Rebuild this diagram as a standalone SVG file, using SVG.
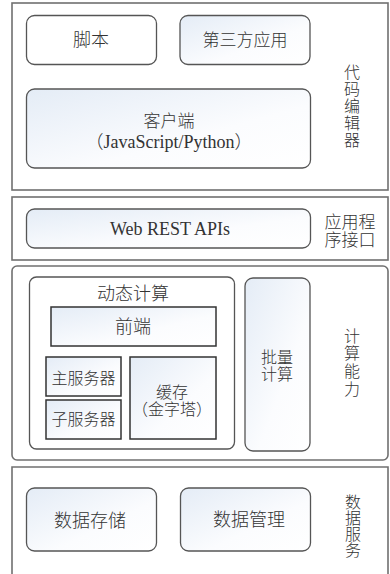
<svg xmlns="http://www.w3.org/2000/svg" width="390" height="574" viewBox="0 0 390 574">
<defs>
<linearGradient id="g" x1="0" y1="0" x2="1" y2="1">
<stop offset="0" stop-color="#e4ecf6"/>
<stop offset="0.6" stop-color="#fbfcfe"/>
<stop offset="1" stop-color="#ffffff"/>
</linearGradient>
<style>
.outer{fill:#fff;stroke:#707070;stroke-width:1.6}
.inner{fill:url(#g);stroke:#555;stroke-width:1.3}
.plain{fill:#fff;stroke:#555;stroke-width:1.3}
.sq{fill:url(#g);stroke:#333;stroke-width:1.5}
text{font-family:"Liberation Serif","Noto Sans CJK SC",serif;font-weight:300;fill:#333;text-anchor:middle;dominant-baseline:central}
.t18{font-size:18px}
.t17{font-size:17px}
.t16{font-size:16px}
</style>
</defs>
<rect width="390" height="574" fill="#fff"/>
<g id="layer-editor">
<rect class="outer" x="12" y="3" width="376" height="187"/>
<text class="t16"><tspan x="352" y="72">代</tspan><tspan x="352" y="89">码</tspan><tspan x="352" y="106">编</tspan><tspan x="352" y="123">辑</tspan><tspan x="352" y="140">器</tspan></text>
</g>
<g id="node-script">
<rect class="plain" x="26.5" y="15.5" width="130" height="49" rx="8"/>
<text class="t18" x="91" y="40">脚本</text>
</g>
<g id="node-thirdparty">
<rect class="inner" x="180" y="15.5" width="130" height="49" rx="8"/>
<text class="t17" x="245" y="40">第三方应用</text>
</g>
<g id="node-client">
<rect class="inner" x="26.5" y="89" width="284" height="79" rx="8"/>
<text class="t17" x="169" y="121">客户端</text>
<text class="t18" x="169" y="142">（JavaScript/Python）</text>
</g>
<g id="layer-api">
<rect class="outer" x="12" y="197" width="376" height="63"/>
<text class="t17"><tspan x="350" y="222">应用程</tspan><tspan x="350" y="240">序接口</tspan></text>
</g>
<g id="node-rest">
<rect class="inner" x="26.5" y="209" width="284" height="39" rx="8"/>
<text class="t18" x="170" y="229">Web REST APIs</text>
</g>
<g id="layer-compute">
<rect class="outer" x="12" y="266" width="376" height="194" rx="5"/>
<text class="t16"><tspan x="352" y="336">计</tspan><tspan x="352" y="353">算</tspan><tspan x="352" y="371">能</tspan><tspan x="352" y="389">力</tspan></text>
</g>
<g id="node-dynamic">
<rect class="plain" x="29.5" y="277" width="205" height="172" rx="7"/>
<text class="t18" x="133" y="294">动态计算</text>
</g>
<g id="node-frontend">
<rect class="sq" x="51" y="307" width="165" height="39"/>
<text class="t18" x="133" y="327">前端</text>
</g>
<g id="node-master">
<rect class="sq" x="46" y="357" width="75" height="39"/>
<text class="t16" x="83.5" y="378">主服务器</text>
</g>
<g id="node-slave">
<rect class="sq" x="46" y="400" width="75" height="39"/>
<text class="t16" x="83.5" y="419">子服务器</text>
</g>
<g id="node-cache">
<rect class="sq" x="130" y="357" width="86" height="82"/>
<text class="t16" x="172" y="392">缓存</text>
<text class="t16" x="172" y="409">（金字塔）</text>
</g>
<g id="node-batch">
<rect class="inner" x="245" y="278" width="65" height="173" rx="8"/>
<text class="t16"><tspan x="277" y="357">批量</tspan><tspan x="277" y="374">计算</tspan></text>
</g>
<g id="layer-data">
<path class="outer" d="M12,576 V467 H388 V576"/>
<text class="t16"><tspan x="353" y="502">数</tspan><tspan x="353" y="518">据</tspan><tspan x="353" y="534">服</tspan><tspan x="353" y="550">务</tspan></text>
</g>
<g id="node-storage">
<rect class="inner" x="26.5" y="488" width="130" height="63" rx="8"/>
<text class="t18" x="90" y="521">数据存储</text>
</g>
<g id="node-manage">
<rect class="inner" x="180.5" y="488" width="130" height="63" rx="8"/>
<text class="t18" x="249" y="520">数据管理</text>
</g>
<g id="connectors"></g>
</svg>
